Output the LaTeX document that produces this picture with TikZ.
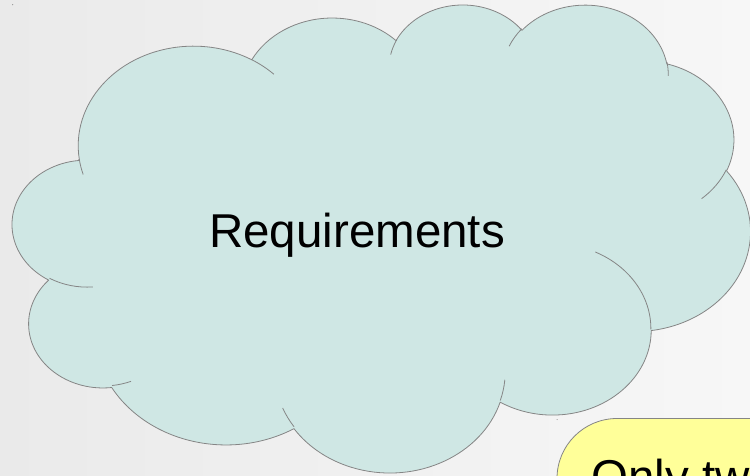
\documentclass[tikz,border=0pt]{standalone}
\usepackage{fontspec}
\setmainfont{Liberation Sans}
\definecolor{cloudfill}{HTML}{CFE7E4}
\definecolor{cloudline}{HTML}{858585}
\definecolor{notefill}{HTML}{FFFF99}
\definecolor{bgleft}{HTML}{EAEAEA}
\definecolor{bgright}{HTML}{F7F7F7}
\tikzset{
  cloudstroke/.style={draw=cloudline, line width=0.8pt},
  bigtext/.style={font=\fontsize{47.5}{57}\selectfont, text=black, inner sep=0pt}
}
\begin{document}
\begin{tikzpicture}[x=1pt,y=-1pt]
\useasboundingbox (0,0) rectangle (750,476);
\begin{scope}
\clip (0,0) rectangle (750,476);
\shade[left color=bgleft, right color=bgright] (0,0) rectangle (750,476);
% cloud (preset cloud geometry, units of 1/100 of the shape frame)
\begin{scope}[shift={(12.68pt,-3.45pt)}, x=1.7073pt, y=-1.0829pt]
\path[fill=cloudfill, cloudstroke, line join=round] (39.00,143.70)
 arc[start angle=-187.745, end angle=-59.636, x radius=67.53, y radius=91.90]
 arc[start angle=-152.018, end angle=-45.456, x radius=53.33, y radius=72.67]
 arc[start angle=-153.476, end angle=-37.325, x radius=43.65, y radius=59.45]
 arc[start angle=-139.694, end angle=-10.211, x radius=48.57, y radius=65.95]
 arc[start angle=-74.768, end angle=23.209, x radius=53.33, y radius=72.73]
 arc[start angle=-37.537, end angle=81.862, x radius=67.75, y radius=92.20]
 arc[start angle=0.4596, end angle=121.986, x radius=57.85, y radius=78.67]
 arc[start angle=16.845, end angle=146.264, x radius=67.52, y radius=92.15]
 arc[start angle=58.993, end angle=150.205, x radius=77.20, y radius=105.43]
 arc[start angle=-276.694, end angle=-136.901, x radius=43.60, y radius=59.18]
 arc[start angle=-239.64, end angle=-95.882, x radius=43.45, y radius=59.45]
 -- cycle;
% inner spurs of the cloud
\draw[cloudstroke] (46.93,261.77) arc[start angle=85.547, end angle=120.36, x radius=43.45, y radius=59.45];
\draw[cloudstroke] (69.28,348.99) arc[start angle=68.233, end angle=83.306, x radius=43.60, y radius=59.18];
\draw[cloudstroke] (164.78,390.90) arc[start angle=146.264, end angle=158.469, x radius=67.52, y radius=92.15];
\draw[cloudstroke] (288.27,347.51) arc[start angle=4.738, end angle=16.845, x radius=67.52, y radius=92.15];
\draw[cloudstroke] (341.29,229.54) arc[start angle=-64.026, end angle=0.4596, x radius=57.85, y radius=78.67];
\draw[cloudstroke] (417.98,153.54) arc[start angle=23.209, end angle=49.651, x radius=53.33, y radius=72.73];
\draw[cloudstroke] (383.24,54.26) arc[start angle=-10.211, end angle=0.8209, x radius=48.57, y radius=65.95];
\draw[cloudstroke] (290.78,39.52) arc[start angle=-156.286, end angle=-139.694, x radius=48.57, y radius=65.95];
\draw[cloudstroke] (221.41,47.20) arc[start angle=-167.726, end angle=-153.476, x radius=43.65, y radius=59.45];
\draw[cloudstroke] (140.00,51.92) arc[start angle=-59.636, end angle=-45.736, x radius=67.53, y radius=91.90];
\draw[cloudstroke] (41.27,157.89) arc[start angle=163.193, end angle=172.254, x radius=67.53, y radius=91.90];
\end{scope}
\node[bigtext, anchor=base] (req) at (357,247) {Requirements};
% yellow note (partly outside the picture)
\path[fill=notefill, cloudstroke, rounded corners=60pt] (557,418.5) rectangle (950,700);
\node[bigtext, anchor=base west] (note) at (591,493) {Only tw};
% tiny marks
\fill[cloudline] (12.7,4.7) circle (0.6);
\fill[cloudline] (557,419.5) circle (0.5);
\end{scope}
\end{tikzpicture}
\end{document}
